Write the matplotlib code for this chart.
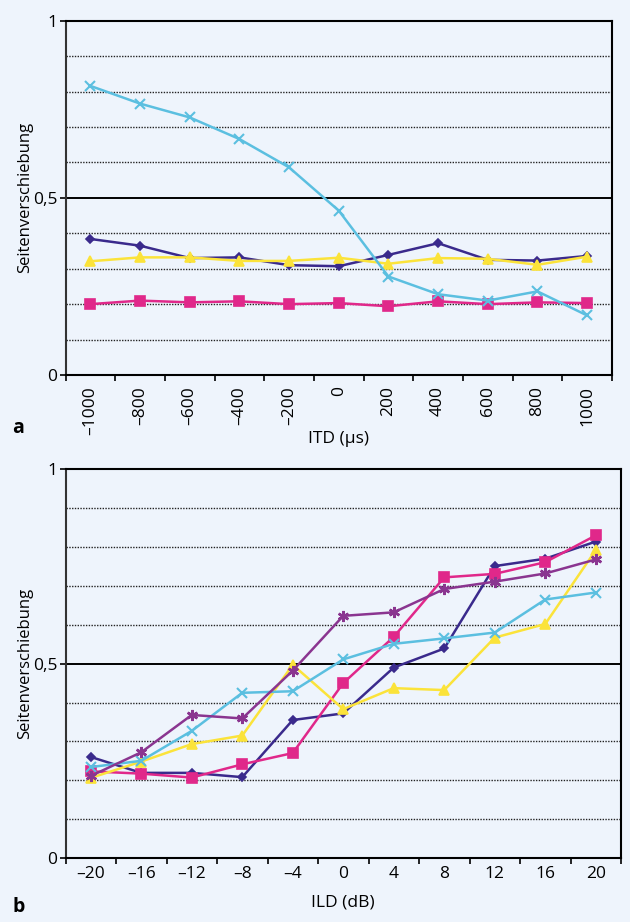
import numpy as np
import matplotlib
matplotlib.use("Agg")
import matplotlib.pyplot as plt

plt.rcParams['font.family'] = ['Open Sans', 'DejaVu Sans']

# Panel a: lateral shift over interaural time difference
itd_labels = ["–1000", "–800", "–600", "–400", "–200", "0", "200", "400", "600", "800", "1000"]
itd_darkblue = [0.384, 0.365, 0.330, 0.332, 0.310, 0.307, 0.339, 0.372, 0.325, 0.323, 0.336]
itd_magenta = [0.200, 0.210, 0.205, 0.208, 0.200, 0.203, 0.194, 0.208, 0.200, 0.205, 0.203]
itd_yellow = [0.321, 0.332, 0.332, 0.322, 0.322, 0.331, 0.314, 0.330, 0.328, 0.311, 0.334]
itd_lightblue = [0.816, 0.766, 0.727, 0.666, 0.586, 0.464, 0.278, 0.228, 0.210, 0.236, 0.168]

# Panel b: lateral shift over interaural level difference
ild_labels = ["–20", "–16", "–12", "–8", "–4", "0", "4", "8", "12", "16", "20"]
ild_darkblue = [0.260, 0.219, 0.219, 0.208, 0.355, 0.372, 0.490, 0.539, 0.751, 0.770, 0.814]
ild_magenta = [0.223, 0.217, 0.207, 0.241, 0.270, 0.450, 0.569, 0.722, 0.731, 0.761, 0.830]
ild_yellow = [0.206, 0.248, 0.293, 0.315, 0.497, 0.383, 0.437, 0.432, 0.567, 0.602, 0.792]
ild_lightblue = [0.234, 0.250, 0.327, 0.425, 0.429, 0.511, 0.551, 0.565, 0.580, 0.665, 0.683]
ild_purple = [0.211, 0.272, 0.368, 0.359, 0.482, 0.623, 0.632, 0.692, 0.711, 0.732, 0.768]

BG = "#eef4fc"
DARKBLUE = "#3a2a8c"
MAGENTA = "#e0288a"
YELLOW = "#fbe33a"
LIGHTBLUE = "#5bbfe0"
PURPLE = "#8a3590"

W, H = 630, 922
fig = plt.figure(figsize=(W / 100, H / 100), dpi=100, facecolor=BG)


def make_axes(left, right, top, bottom):
    return fig.add_axes([left / W, 1 - bottom / H, (right - left) / W, (bottom - top) / H])


def style_axes(ax, labels, xlabel, rotate):
    ax.set_facecolor(BG)
    n = len(labels)
    ax.set_xlim(-0.5, n - 0.5)
    ax.set_ylim(0, 1)
    # category boundaries carry the tick marks, centres carry the labels
    ax.set_xticks(np.arange(n + 1) - 0.5)
    ax.set_xticklabels([])
    ax.set_xticks(np.arange(n), minor=True)
    ax.set_xticklabels(labels, minor=True, rotation=90 if rotate else 0, fontsize=12.5)
    ax.tick_params(axis='x', which='major', direction='out', length=4.5, width=1.2, color='black')
    ax.tick_params(axis='x', which='minor', length=0, pad=8 if rotate else 6)
    ax.set_yticks([0, 0.5, 1])
    ax.set_yticklabels(["0", "0,5", "1"], fontsize=12.5)
    ax.tick_params(axis='y', direction='out', length=4, width=1.2, color='black', pad=2)
    for y in [0.1, 0.2, 0.3, 0.4, 0.6, 0.7, 0.8, 0.9]:
        ax.axhline(y, color='#222222', lw=1.0, ls=(0, (1, 1)), zorder=1)
    ax.axhline(0.5, color='black', lw=1.4, zorder=1)
    for side in ['top', 'right', 'bottom']:
        ax.spines[side].set_color('black')
        ax.spines[side].set_linewidth(1.5)
    ax.spines['left'].set_color('#333333')
    ax.spines['left'].set_linewidth(1.5)
    ax.set_ylabel("Seitenverschiebung", fontsize=12)
    ax.set_xlabel(xlabel, fontsize=12.5)


def draw(ax, values, color, marker, ms, mew=1.2, z=3):
    x = np.arange(len(values))
    ax.plot(x, values, color=color, lw=1.8, marker=marker, ms=ms,
            mfc=color, mec=color, mew=mew, zorder=z)


# panel a
ax1 = make_axes(65.5, 612, 20.7, 375)
style_axes(ax1, itd_labels, "ITD (µs)", rotate=True)
ax1.yaxis.set_label_coords((33 - 65.5) / 546.5, 0.5)
ax1.xaxis.set_label_coords(0.5, (375 - 431) / 354.3)
draw(ax1, itd_darkblue, DARKBLUE, 'D', 4)
draw(ax1, itd_magenta, MAGENTA, 's', 7.5)
draw(ax1, itd_yellow, YELLOW, '^', 7)
draw(ax1, itd_lightblue, LIGHTBLUE, 'x', 6.5, mew=1.5)
fig.text(12 / W, 1 - 428 / H, "a", fontsize=14, fontweight='bold', va='center')

# panel b
ax2 = make_axes(65.5, 621, 469.3, 858)
style_axes(ax2, ild_labels, "ILD (dB)", rotate=False)
ax2.yaxis.set_label_coords((33 - 65.5) / 555.5, 0.5)
ax2.xaxis.set_label_coords(0.5, (858 - 894) / 388.7)
draw(ax2, ild_darkblue, DARKBLUE, 'D', 4)
draw(ax2, ild_magenta, MAGENTA, 's', 7.5)
draw(ax2, ild_yellow, YELLOW, '^', 7)
draw(ax2, ild_lightblue, LIGHTBLUE, 'x', 6.5, mew=1.5)
draw(ax2, ild_purple, PURPLE, (6, 2, 0), 8, mew=1.8)
fig.text(12 / W, 1 - 907 / H, "b", fontsize=14, fontweight='bold', va='center')

fig.savefig("out.png", dpi=100, facecolor=BG)
